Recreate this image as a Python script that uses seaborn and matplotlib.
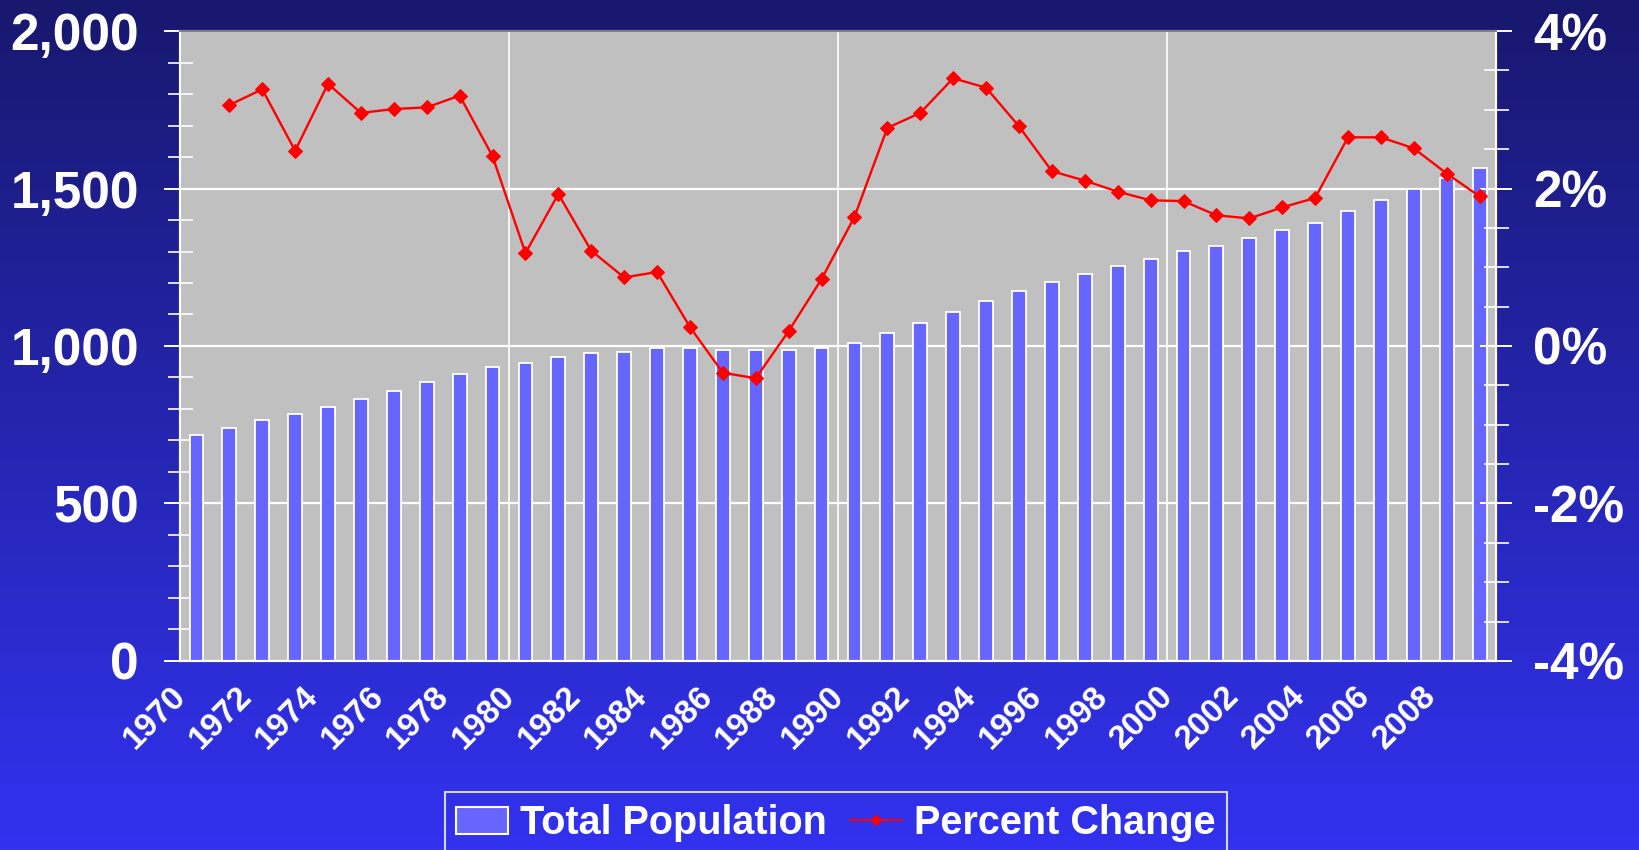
import numpy as np
import pandas as pd
import matplotlib.pyplot as plt
import matplotlib.transforms as mtransforms
import seaborn as sns
from matplotlib.ticker import FuncFormatter, MultipleLocator
from matplotlib.patches import Patch
from matplotlib.lines import Line2D

# -----------------------------
# Data
# -----------------------------
years = list(range(1970, 2010))
population = [717, 741, 766, 784, 807, 832, 856, 887, 910, 934,
              947, 964, 977, 982, 993, 993, 987, 987, 987, 993,
              1011, 1042, 1072, 1108, 1144, 1175, 1204, 1229, 1253, 1277,
              1302, 1318, 1343, 1367, 1392, 1428, 1463, 1497, 1534, 1565]
pct_change = [np.nan, 3.06, 3.26, 2.48, 3.33, 2.96, 3.01, 3.03, 3.18, 2.41,
              1.18, 1.93, 1.21, 0.87, 0.94, 0.24, -0.34, -0.41, 0.19, 0.85,
              1.64, 2.77, 2.96, 3.40, 3.28, 2.79, 2.22, 2.10, 1.96, 1.85,
              1.84, 1.66, 1.62, 1.76, 1.88, 2.65, 2.65, 2.51, 2.19, 1.90]

# -----------------------------
# Style
# -----------------------------
BAR_COLOR = "#6666ff"
LINE_COLOR = "#ff0000"
PLOT_BG = "#c0c0c0"
BG_TOP = np.array([24, 24, 110]) / 255
BG_BOTTOM = np.array([50, 50, 240]) / 255

sns.set_theme(style="white")
plt.rcParams["font.family"] = ["Liberation Sans", "DejaVu Sans"]
plt.rcParams["font.weight"] = "bold"

df = pd.DataFrame({"Year": years, "Population": population, "Percent": pct_change})
df["pos"] = np.arange(len(df))

fig = plt.figure(figsize=(16.39, 8.5), dpi=100)

# gradient background
bg = fig.add_axes([0, 0, 1, 1], zorder=-10)
grad = np.linspace(0, 1, 256)[:, None, None]
img = BG_TOP + (BG_BOTTOM - BG_TOP) * grad
bg.imshow(img, aspect="auto", extent=[0, 1, 0, 1])
bg.axis("off")

ax = fig.add_axes([0.1098, 0.2224, 0.8030, 0.7411])
ax.set_facecolor(PLOT_BG)
ax.set_axisbelow(True)

sns.barplot(data=df, x="Year", y="Population", color=BAR_COLOR, saturation=1,
            width=0.42, edgecolor="white", linewidth=1.3, ax=ax)

ax2 = ax.twinx()
sns.lineplot(data=df, x="pos", y="Percent", color=LINE_COLOR, marker="D",
             markersize=7.5, markeredgecolor=LINE_COLOR, linewidth=1.7,
             legend=False, ax=ax2)

ax.set_ylim(0, 2000)
ax2.set_ylim(-4, 4)
ax.set_xlim(-0.5, len(years) - 0.5)
ax2.set_xlim(-0.5, len(years) - 0.5)
for a in (ax, ax2):
    a.set_xlabel("")
    a.set_ylabel("")

# left axis
ax.yaxis.set_major_locator(MultipleLocator(500))
ax.yaxis.set_minor_locator(MultipleLocator(100))
ax.yaxis.set_major_formatter(FuncFormatter(lambda v, p: f"{v:,.0f}"))
ax.tick_params(axis="y", which="major", direction="inout", length=23, width=1.4,
               color="white", labelsize=37, labelcolor="white", pad=18)
ax.tick_params(axis="y", which="minor", direction="inout", length=18, width=1.2,
               color="white")

# right axis
ax2.yaxis.set_major_locator(MultipleLocator(2))
ax2.yaxis.set_minor_locator(MultipleLocator(0.5))
ax2.yaxis.set_major_formatter(FuncFormatter(lambda v, p: f"{v:.0f}%"))
ax2.tick_params(axis="y", which="major", direction="inout", length=23, width=1.4,
                color="white", labelsize=37, labelcolor="white", pad=15)
ax2.tick_params(axis="y", which="minor", direction="inout", length=18, width=1.2,
                color="white")

# x axis: labels every 2 years, tick marks / gridlines every 10
ax.set_xticks(df["pos"][::2])
ax.set_xticklabels([str(y) for y in years[::2]])
ax.set_xticks(np.arange(-0.5, len(years), 10), minor=True)
ax.tick_params(axis="x", which="major", length=0, pad=22, labelsize=24,
               labelcolor="white")
ax.tick_params(axis="x", which="minor", direction="out", length=6.5, width=1.4,
               color="white")
offset = mtransforms.ScaledTranslation(-15 / 100, 0, fig.dpi_scale_trans)
for lbl in ax.get_xticklabels():
    lbl.set_rotation(45)
    lbl.set_ha("right")
    lbl.set_va("center")
    lbl.set_rotation_mode("anchor")
    lbl.set_fontweight("bold")
    lbl.set_transform(lbl.get_transform() + offset)
for lbl in ax.get_yticklabels() + ax2.get_yticklabels():
    lbl.set_fontweight("bold")

# grid
ax.grid(False)
ax.yaxis.grid(True, which="major", color="white", linewidth=1.6)
ax.xaxis.grid(True, which="minor", color="white", linewidth=1.2)
ax.xaxis.grid(False, which="major")

# spines
for a in (ax, ax2):
    for side in ("left", "bottom", "right"):
        a.spines[side].set_color("white")
        a.spines[side].set_linewidth(1.5)
    a.spines["top"].set_color("#808080")
    a.spines["top"].set_linewidth(1.5)

# legend
handles = [
    Patch(facecolor=BAR_COLOR, edgecolor="white", linewidth=1.5, label="Total Population"),
    Line2D([0], [0], color=LINE_COLOR, marker="D", markersize=5, linewidth=1.5,
           label="Percent Change"),
]
leg = fig.legend(handles=handles, loc="upper center", bbox_to_anchor=(0.51, 0.091),
                 ncol=2, frameon=True, fancybox=False, edgecolor="white",
                 facecolor="none", prop={"size": 28.5, "weight": "bold"},
                 labelcolor="white", handlelength=1.3, handletextpad=0.3,
                 columnspacing=0.6, borderpad=0.3)
leg.get_frame().set_linewidth(1.5)

fig.savefig("out.png", dpi=100)
